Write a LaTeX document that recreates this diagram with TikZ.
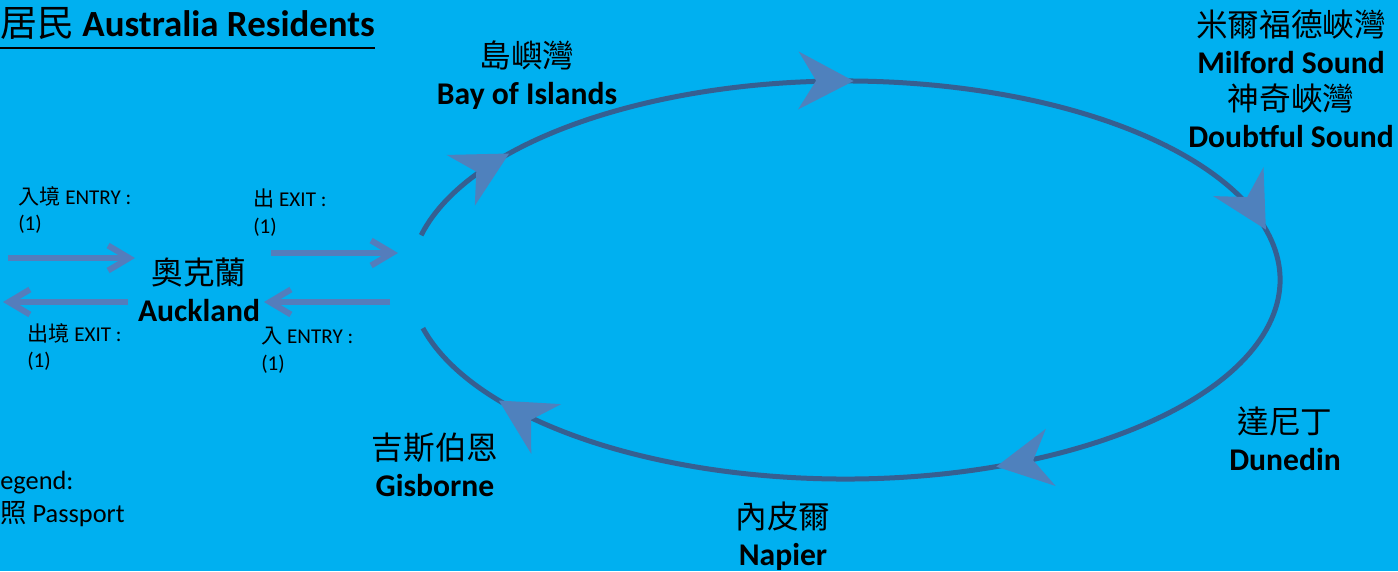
\documentclass[tikz,border=0pt]{standalone}
\usepackage{fontspec}
\setmainfont{Carlito}
\newfontfamily\cjk{Noto Sans CJK TC}
\newcommand{\zh}[1]{{\mdseries\cjk #1}}
\usepackage{tikz}
\usetikzlibrary{arrows.meta}
\usetikzlibrary{decorations.markings}
\definecolor{slideBg}{RGB}{0,176,240}
\definecolor{ringLine}{RGB}{54,95,145}
\definecolor{headFill}{RGB}{79,129,189}
\definecolor{passLine}{RGB}{84,125,188}
\tikzstyle{heading} = [inner sep=0, font={\fontsize{21}{24}\selectfont}]
\tikzstyle{town} = [align=center, inner sep=0, font={\fontsize{18}{21}\selectfont\bfseries}]
\tikzstyle{tally} = [align=left, anchor=west, inner sep=0, font={\fontsize{12}{15.3}\selectfont}]
\tikzstyle{legend} = [anchor=base west, inner sep=0, font={\fontsize{15}{18}\selectfont}]
\tikzstyle{passline} = [draw=passLine, line width=0.12cm, -{Straight Barb[length=0.42cm, width=0.5cm]}]
\tikzstyle{ringhead} = [headFill]
\tikzstyle{ring} = [draw=ringLine, line width=0.1cm, postaction={decorate},
        decoration={markings,
          mark=at position 0.062 with {\arrow[ringhead]{Stealth[length=1.1cm, width=1.15cm, inset=0.35cm]}},
          mark=at position 0.243 with {\arrow[ringhead]{Stealth[length=1.1cm, width=1.15cm, inset=0.35cm]}},
          mark=at position 0.474 with {\arrow[ringhead]{Stealth[length=1.1cm, width=1.15cm, inset=0.35cm]}},
          mark=at position 0.686 with {\arrow[ringhead]{Stealth[length=1.1cm, width=1.15cm, inset=0.35cm]}},
          mark=at position 0.946 with {\arrow[ringhead]{Stealth[length=1.1cm, width=1.15cm, inset=0.35cm]}}}]
\begin{document}
\begin{tikzpicture}[x=0.02cm, y=-0.02cm]
            \fill[slideBg] (0,0) rectangle (1398,571);
            \useasboundingbox (0,0) rectangle (1398,571);
            % title
            \node [heading, anchor=base west] (title) at (0,37) {\zh{居民} \textbf{Australia Residents}};
            \draw [line width=0.04cm] ([yshift=-6pt]title.base west) -- ([yshift=-6pt]title.base east);
            % the round trip
            \draw [ring] (845,280) ++(193:435 and 199) arc[start angle=193, end angle=526, x radius=435, y radius=199];
            \node [town] (bay) at (527,75) {\zh{島嶼灣}\\Bay of Islands};
            \node [town] (milford) at (1291,79) {\zh{米爾福德峽灣}\\Milford Sound\\\zh{神奇峽灣}\\Doubtful Sound};
            \node [town] (dunedin) at (1285,439) {\zh{達尼丁}\\Dunedin};
            \node [town] (napier) at (783,536) {\zh{內皮爾}\\Napier};
            \node [town] (gisborne) at (435,465) {\zh{吉斯伯恩}\\Gisborne};
            \node [town] (auckland) at (199,290) {\zh{奧克蘭}\\Auckland};
            % entry and exit
            \coordinate (inA0) at (8,258);
            \coordinate (inA1) at (135,258);
            \coordinate (outA0) at (271,253);
            \coordinate (outA1) at (398,253);
            \coordinate (outB0) at (128,302);
            \coordinate (outB1) at (3,302);
            \coordinate (inB0) at (390,302);
            \coordinate (inB1) at (264,302);
            \draw [passline] (inA0) -- (inA1);
            \draw [passline] (outA0) -- (outA1);
            \draw [passline] (outB0) -- (outB1);
            \draw [passline] (inB0) -- (inB1);
            \node [tally] (inA) at (18,210) {\zh{入境} ENTRY :\\(1)};
            \node [tally] (outA) at (253,213) {\zh{出} EXIT :\\(1)};
            \node [tally] (outB) at (27,347) {\zh{出境} EXIT :\\(1)};
            \node [tally] (inB) at (261,350) {\zh{入} ENTRY :\\(1)};
            % legend
            \node [legend] (lgd) at (0,489) {egend:};
            \node [legend] (pass) at (0,522) {\zh{照} Passport};
        \end{tikzpicture}
\end{document}
